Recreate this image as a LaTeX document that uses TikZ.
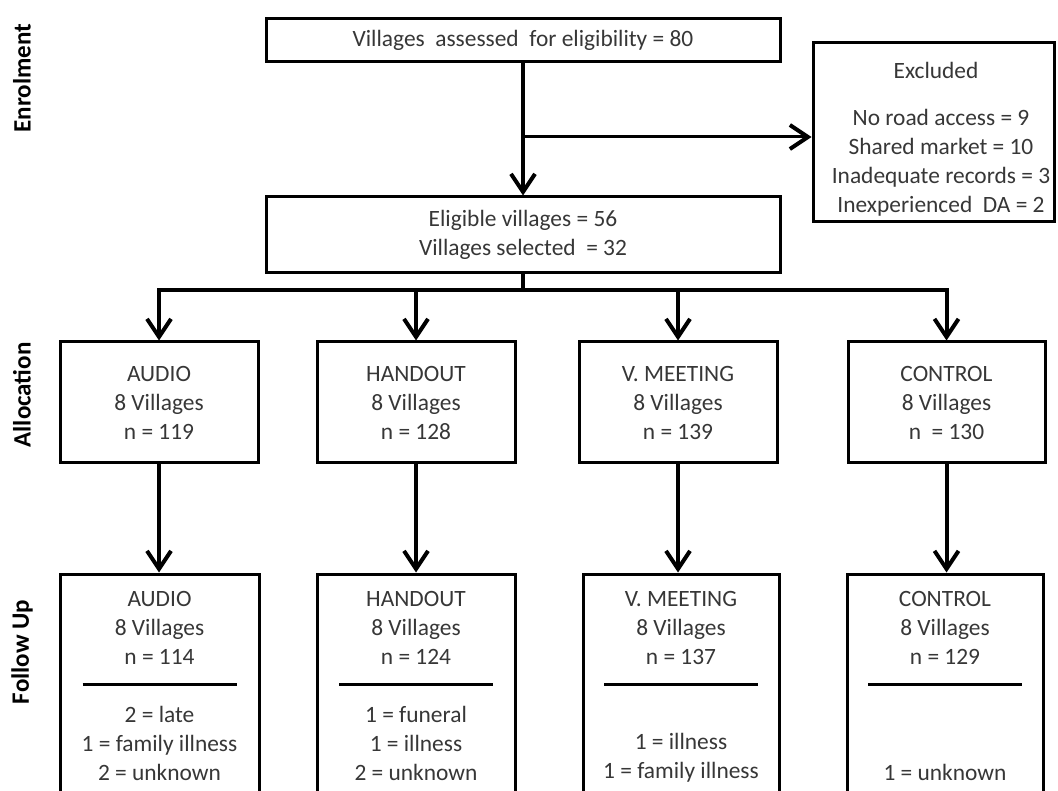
\documentclass[tikz,border=0pt]{standalone}
\usepackage{fontspec}
\setmainfont{Carlito}
\usetikzlibrary{arrows.meta}
\definecolor{txt}{RGB}{55,55,55}
\begin{document}
\begin{tikzpicture}[x=1pt,y=-1pt,
  box/.style={draw=black,line width=3pt,fill=white,align=center,inner sep=0pt,text=txt,font=\fontsize{23.4}{29}\selectfont},
  lbl/.style={text=txt,align=center,inner sep=0pt,font=\fontsize{23.4}{29}\selectfont},
  side/.style={rotate=90,inner sep=0pt,font=\fontsize{25}{30}\selectfont\bfseries},
  tipv/.tip={Straight Barb[length=18pt,width=24pt,line width=4pt]},
  arr/.style={line width=4pt,-tipv},
  conn/.style={line width=4pt,line cap=rect},
  sep/.style={line width=3pt}]
\useasboundingbox (0,0) rectangle (1058,791);
\clip (0,0) rectangle (1058,791);
% side labels
\node[side] (s1) at (22,78) {Enrolment};
\node[side] (s2) at (22,395) {Allocation};
\node[side] (s3) at (22,652) {Follow Up};
% enrolment
\node[box,minimum width=514pt,minimum height=43pt] (top) at (523,40.5) {Villages\ \ assessed\ \ for eligibility = 80};
\node[box,minimum width=514pt,minimum height=76pt] (elig) at (523,235) {Eligible villages = 56\\Villages selected\ \ = 32};
\node[box,minimum width=241pt,minimum height=179pt] (excl) at (933.5,132.5) {};
\node[lbl] (exclt) at (936,70) {Excluded};
\node[lbl] (excli) at (941,163) {No road access = 9\\Shared market = 10\\Inadequate records = 3\\Inexperienced\ \ DA = 2};
% allocation
\node[box,minimum width=198pt,minimum height=121pt] (a1) at (159,402.5) {AUDIO\\8 Villages\\n = 119};
\node[box,minimum width=198pt,minimum height=121pt] (a2) at (416,402.5) {HANDOUT\\8 Villages\\n = 128};
\node[box,minimum width=198pt,minimum height=121pt] (a3) at (678,402.5) {V. MEETING\\8 Villages\\n = 139};
\node[box,minimum width=197pt,minimum height=121pt] (a4) at (946.5,402.5) {CONTROL\\8 Villages\\n\ \ = 130};
% follow up
\node[box,minimum width=199pt,minimum height=236pt] (f1) at (159.5,692) {};
\node[box,minimum width=198pt,minimum height=236pt] (f2) at (416,692) {};
\node[box,minimum width=196pt,minimum height=236pt] (f3) at (681,692) {};
\node[box,minimum width=196pt,minimum height=236pt] (f4) at (945,692) {};
\node[lbl] (f1t) at (159.5,627.5) {AUDIO\\8 Villages\\n = 114};
\node[lbl] (f2t) at (416,627.5) {HANDOUT\\8 Villages\\n = 124};
\node[lbl] (f3t) at (681,627.5) {V. MEETING\\8 Villages\\n = 137};
\node[lbl] (f4t) at (945,627.5) {CONTROL\\8 Villages\\n = 129};
\node[lbl] (f1b) at (159.5,743.5) {2 = late\\1 = family illness\\2 = unknown};
\node[lbl] (f2b) at (416,743.5) {1 = funeral\\1 = illness\\2 = unknown};
\node[lbl] (f3b) at (681,757.5) {1 = illness\\1 = family illness};
\node[lbl] (f4b) at (945,772) {1 = unknown};
\foreach \f in {f1,f2,f3,f4}
  \draw[sep] ([xshift=-77pt,yshift=-112pt]\f.north) -- ([xshift=77pt,yshift=-112pt]\f.north);
% connectors
\draw[arr] (top) -- (elig);
\coordinate (br) at (523,137);
\draw[line width=3pt,-tipv] (br) -- (br -| excl.west);
\coordinate (sp) at (523,290);
\draw[conn] (elig) -- (sp);
\draw[conn] (a1.north |- sp) -- (a4.north |- sp);
\foreach \a in {a1,a2,a3,a4}
  \draw[arr] (\a.north |- sp) -- (\a.north);
\draw[arr] (a1.south) -- (a1.south |- f1.north);
\draw[arr] (a2.south) -- (a2.south |- f2.north);
\draw[arr] (a3.south) -- (a3.south |- f3.north);
\draw[arr] (a4.south) -- (a4.south |- f4.north);
\end{tikzpicture}
\end{document}
